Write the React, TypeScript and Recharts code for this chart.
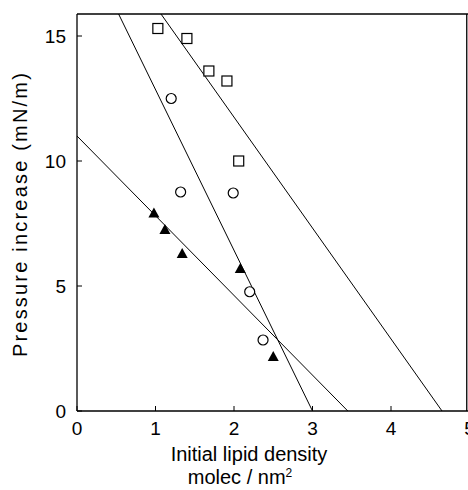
import React from "react";
import {
  ComposedChart,
  Scatter,
  XAxis,
  YAxis,
  ReferenceLine,
} from "recharts";

// measured points
const squares = [
  { x: 1.03, y: 15.3 },
  { x: 1.4, y: 14.9 },
  { x: 1.68, y: 13.6 },
  { x: 1.91, y: 13.2 },
  { x: 2.06, y: 10.0 },
];

const circles = [
  { x: 1.2, y: 12.5 },
  { x: 1.32, y: 8.76 },
  { x: 1.99, y: 8.72 },
  { x: 2.2, y: 4.77 },
  { x: 2.37, y: 2.84 },
];

const triangles = [
  { x: 0.98, y: 7.9 },
  { x: 1.12, y: 7.24 },
  { x: 1.34, y: 6.28 },
  { x: 2.08, y: 5.68 },
  { x: 2.5, y: 2.16 },
];

// fitted lines (end points)
const fitTriangles = [
  { x: 0, y: 11.0 },
  { x: 3.45, y: 0 },
];
const fitCircles = [
  { x: 0.53, y: 15.88 },
  { x: 3.0, y: 0 },
];
const fitSquares = [
  { x: 1.07, y: 15.88 },
  { x: 4.65, y: 0 },
];

const xTicks = [0, 1, 2, 3, 4, 5];
const yTicks = [0, 5, 10, 15];

const FONT = "'Liberation Sans', Arial, sans-serif";

const SquareDot = (p: any) => (
  <rect x={p.cx - 5} y={p.cy - 5} width={10} height={10} fill="#fff" stroke="#000" strokeWidth={1.2} />
);
const CircleDot = (p: any) => (
  <circle cx={p.cx} cy={p.cy} r={5} fill="#fff" stroke="#000" strokeWidth={1.2} />
);
const TriangleDot = (p: any) => (
  <path d={`M${p.cx},${p.cy - 6} L${p.cx + 5.5},${p.cy + 4} L${p.cx - 5.5},${p.cy + 4} Z`} fill="#000" />
);
const NoDot = () => <g />;

const XLabel = (props: any) => {
  const { x, y } = props.viewBox;
  return (
    <g fontFamily={FONT} fontSize={20} fill="#000">
      <text x={x + 172} y={y + 50} textAnchor="middle">
        Initial lipid density
      </text>
      <text x={x + 163} y={y + 73} textAnchor="middle">
        molec / nm<tspan dy={-7} fontSize={12}>2</tspan>
      </text>
    </g>
  );
};

const YLabel = () => (
  <text
    x={27}
    y={214}
    transform="rotate(-90 27 214)"
    textAnchor="middle"
    fontFamily={FONT}
    fontSize={20}
    letterSpacing={2.2}
    fill="#000"
  >
    Pressure  increase  (mN/m)
  </text>
);

export default function App() {
  return (
    <div style={{ position: "absolute", left: 0, top: 0, width: 468, height: 490, overflow: "hidden", background: "#fff" }}>
      <ComposedChart
        width={472}
        height={490}
        margin={{ top: 14, right: 2.5, bottom: 0, left: 0 }}
      >
        <XAxis
          type="number"
          dataKey="x"
          domain={[0, 5]}
          ticks={xTicks}
          height={79}
          axisLine={{ stroke: "#000", strokeWidth: 1.3 }}
          tickLine={{ stroke: "#000" }}
          tickSize={-5}
          tickMargin={16}
          tick={{ fill: "#000", fontSize: 19, fontFamily: FONT }}
          label={<XLabel />}
          interval={0}
        />
        <YAxis
          type="number"
          dataKey="y"
          domain={[0, 15.88]}
          ticks={yTicks}
          width={77}
          allowDataOverflow
          axisLine={{ stroke: "#000", strokeWidth: 1.3 }}
          tickLine={{ stroke: "#000" }}
          tickSize={-5}
          tickMargin={16}
          tick={{ fill: "#000", fontSize: 19, fontFamily: FONT }}
          label={<YLabel />}
          interval={0}
        />
        <ReferenceLine y={15.88} stroke="#000" strokeWidth={1.3} />
        <ReferenceLine x={4.965} stroke="#000" strokeWidth={1.3} />
        <Scatter data={fitTriangles} line={{ stroke: "#000", strokeWidth: 1 }} shape={NoDot} isAnimationActive={false} />
        <Scatter data={fitCircles} line={{ stroke: "#000", strokeWidth: 1 }} shape={NoDot} isAnimationActive={false} />
        <Scatter data={fitSquares} line={{ stroke: "#000", strokeWidth: 1 }} shape={NoDot} isAnimationActive={false} />
        <Scatter data={squares} shape={SquareDot} isAnimationActive={false} />
        <Scatter data={circles} shape={CircleDot} isAnimationActive={false} />
        <Scatter data={triangles} shape={TriangleDot} isAnimationActive={false} />
      </ComposedChart>
    </div>
  );
}
